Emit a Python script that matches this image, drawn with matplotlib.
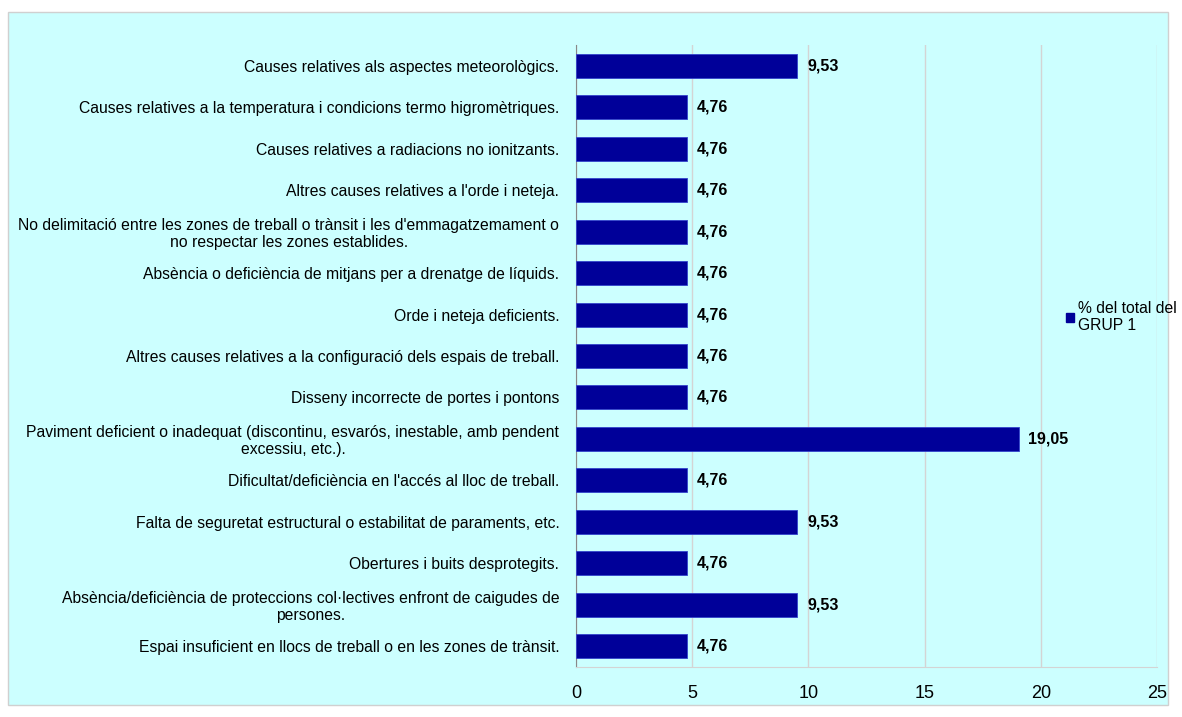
import matplotlib.pyplot as plt
from matplotlib.patches import Rectangle, Patch

plt.rcParams['font.family'] = ['Liberation Sans', 'DejaVu Sans']

BG = '#CCFFFF'
BAR = '#000099'

categories = [
    'Causes relatives als aspectes meteorològics.',
    'Causes relatives a la temperatura i condicions termo higromètriques.',
    'Causes relatives a radiacions no ionitzants.',
    "Altres causes relatives a l'orde i neteja.",
    "No delimitació entre les zones de treball o trànsit i les d'emmagatzemament o\nno respectar les zones establides.",
    'Absència o deficiència de mitjans per a drenatge de líquids.',
    'Orde i neteja deficients.',
    'Altres causes relatives a la configuració dels espais de treball.',
    'Disseny incorrecte de portes i pontons',
    'Paviment deficient o inadequat (discontinu, esvarós, inestable, amb pendent\nexcessiu, etc.).',
    "Dificultat/deficiència en l'accés al lloc de treball.",
    'Falta de seguretat estructural o estabilitat de paraments, etc.',
    'Obertures i buits desprotegits.',
    'Absència/deficiència de proteccions col·lectives enfront de caigudes de\npersones.',
    'Espai insuficient en llocs de treball o en les zones de trànsit.',
]
values = [9.53, 4.76, 4.76, 4.76, 4.76, 4.76, 4.76, 4.76, 4.76, 19.05, 4.76, 9.53, 4.76, 9.53, 4.76]
xticks = [0, 5, 10, 15, 20, 25]

fig = plt.figure(figsize=(11.82, 7.17), dpi=100, facecolor='white')
fig.patches.append(Rectangle((8 / 1182, 12 / 717), 1160 / 1182, 693 / 717,
                             transform=fig.transFigure, facecolor=BG,
                             edgecolor='#D0D0D0', linewidth=1, zorder=-5))

ax = fig.add_axes([576 / 1182, 1 - 667 / 717, 581 / 1182, 622 / 717])
ax.set_facecolor(BG)

pos = list(range(len(categories)))
ax.barh(pos, values, height=0.58, color=BAR, edgecolor='#3344CC', linewidth=0.6, zorder=3)

for p, v in zip(pos, values):
    ax.text(v + 0.42, p, f'{v:.2f}'.replace('.', ','), va='center', ha='left',
            fontsize=11.5, fontweight='bold', color='black')

ax.set_ylim(len(categories) - 0.5, -0.5)
ax.set_xlim(0, 25)
ax.set_yticks(pos)
ax.set_yticklabels(categories, fontsize=11.3, linespacing=1.15)
for t in ax.get_yticklabels():
    t.set_multialignment('center')
ax.set_xticks(xticks)
ax.set_xticklabels([str(t) for t in xticks], fontsize=13)
ax.tick_params(axis='y', length=0, pad=12)
ax.tick_params(axis='x', length=0, pad=13)

ax.grid(axis='x', color='#D4D4D4', linewidth=1, zorder=0)
for s in ['top', 'right']:
    ax.spines[s].set_visible(False)
ax.spines['left'].set_color('#888888')
ax.spines['bottom'].set_color('#D4D4D4')

fig.legend(handles=[Patch(facecolor=BAR, edgecolor=BAR)],
           labels=['% del total del\nGRUP 1'],
           loc='upper left', bbox_to_anchor=(1058 / 1182, 1 - 293 / 717),
           frameon=False, fontsize=11.3, handlelength=0.55, handleheight=0.55,
           handletextpad=0.2, borderpad=0, labelspacing=0)

fig.savefig('out.png', dpi=100, facecolor='white')
